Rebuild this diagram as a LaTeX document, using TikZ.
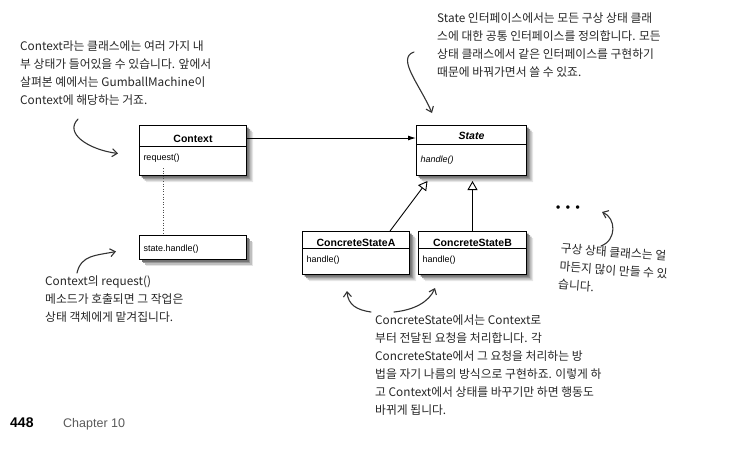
\documentclass[tikz,border=0pt]{standalone}
\usepackage{fontspec}
\setsansfont{Liberation Sans}
\newfontfamily\handfont{Noto Sans CJK KR}
\usepackage{tikz}
\usetikzlibrary{arrows.meta, positioning, shapes.multipart, shadows}

\newcommand{\umlname}[3]{{\centering\fontsize{10.5}{12}\selectfont\bfseries #1\rule[-#3pt]{0pt}{\dimexpr #2pt+#3pt\relax}\par}}
\newcommand{\umlops}[3]{#1\rule[-#3pt]{0pt}{\dimexpr #2pt+#3pt\relax}}

\tikzset{
    softshadow/.style={
        drop shadow={shadow xshift=6.5pt, shadow yshift=-6.5pt, opacity=1, fill=black!10},
        drop shadow={shadow xshift=5pt, shadow yshift=-5pt, opacity=1, fill=black!25},
        drop shadow={shadow xshift=3.5pt, shadow yshift=-3.5pt, opacity=1, fill=black!40},
        drop shadow={shadow xshift=2pt, shadow yshift=-2pt, opacity=1, fill=black!55}},
    umlbase/.style={draw, line width=1pt, fill=white, inner xsep=4pt, inner ysep=0pt, align=left,
        font=\sffamily\fontsize{9}{11}\selectfont, softshadow},
    umlbox/.style={umlbase, rectangle, text width=#1},
    umlbox/.default=99pt,
    umlclass/.style={umlbase, rectangle split, rectangle split parts=2, text width=#1},
    umlclass/.default=99pt,
    handnote/.style={anchor=north west, align=left, inner sep=0pt, text=black!85,
        font=\handfont\fontsize{11.8}{18}\selectfont},
    handarrow/.style={-{Straight Barb[length=5pt, width=8pt]}, line width=1.1pt, black!80, line cap=round},
}

\begin{document}
\begin{tikzpicture}[x=1pt, y=-1pt]
    \useasboundingbox (0,0) rectangle (731,451);

    \node[umlclass, anchor=north west] (ctx) at (139,125)
        {\umlname{Context}{16}{4}\nodepart{second}\umlops{request()}{13}{15}};
    \node[umlclass=102pt, right=169pt of ctx] (state)
        {\umlname{\itshape State}{13.5}{4.5}\nodepart{second}\umlops{\itshape handle()}{17}{13}};
    \node[umlbox, below=59pt of ctx] (handle) {\umlops{state.handle()}{16}{8}};
    \node[umlclass, anchor=north west] (csa) at (302,231)
        {\umlname{ConcreteStateA}{14}{2}\nodepart{second}\umlops{handle()}{13}{12}};
    \node[umlclass=100pt, right=8pt of csa] (csb)
        {\umlname{ConcreteStateB}{14}{2}\nodepart{second}\umlops{handle()}{13}{12}};
    \node[inner sep=0pt, font=\sffamily\bfseries\fontsize{12}{12}\selectfont] (more) at (568,209)
        {\textbullet\hspace{5.5pt}\textbullet\hspace{5.5pt}\textbullet};

    \node[handnote] (ctxnote) at (20,41) {
        Context라는 클래스에는 여러 가지 내\\
        부 상태가 들어있을 수 있습니다. 앞에서\\
        살펴본 예에서는 GumballMachine이\\
        Context에 해당하는 거죠.
    };
    \node[handnote] (statenote) at (437,13) {
        State 인터페이스에서는 모든 구상 상태 클래\\
        스에 대한 공통 인터페이스를 정의합니다. 모든\\
        상태 클래스에서 같은 인터페이스를 구현하기\\
        때문에 바꿔가면서 쓸 수 있죠.
    };
    \node[handnote] (reqnote) at (45,276) {
        Context의 request()\\
        메소드가 호출되면 그 작업은\\
        상태 객체에게 맡겨집니다.
    };
    \node[handnote, rotate=-4] (manynote) at (561,243) {
        구상 상태 클래스는 얼\\
        마든지 많이 만들 수 있\\
        습니다.
    };
    \node[handnote] (concnote) at (375,315) {
        ConcreteState에서는 Context로\\
        부터 전달된 요청을 처리합니다. 각\\
        ConcreteState에서 그 요청을 처리하는 방\\
        법을 자기 나름의 방식으로 구현하죠. 이렇게 하\\
        고 Context에서 상태를 바꾸기만 하면 행동도\\
        바뀌게 됩니다.
    };

    \node[anchor=base west, inner sep=0pt, font=\sffamily\bfseries\fontsize{14}{16}\selectfont] (pagenum) at (10,427) {448};
    \node[anchor=base west, inner sep=0pt, text=black!65, font=\sffamily\fontsize{12.5}{14}\selectfont] (chapter) at (63,427) {Chapter 10};

    \coordinate (stbase) at ([yshift=-5pt]state.south);
    \coordinate (statetail) at ([shift={(-23,39)}]statenote.north west);
    \draw[-{Latex[length=8pt, width=5pt]}, line width=1pt] ([yshift=-13pt]ctx.north east) -- ([yshift=-13pt]state.north west);
    \draw[-{Triangle[open, length=9pt, width=10pt]}, line width=0.9pt] ([xshift=34pt]csa.north) -- ([xshift=-44pt]stbase);
    \draw[-{Triangle[open, length=9pt, width=10pt]}, line width=0.9pt] (csb.north) -- (csb.north |- stbase);
    \draw[dotted, line width=0.6pt, black!70] ([shift={(24,-8)}]ctx.south west) -- ([xshift=24pt]handle.north west);

    \draw[handarrow] ([shift={(58,13)}]ctxnote.south west) .. controls +(-14,14) and +(-30,-4) .. ([shift={(-21,3)}]ctx.west);
    \draw[handarrow] (statetail) .. controls +(-18,6) and +(-12,-28) .. ([shift={(16,-12)}]state.north west);
    \draw[handarrow] ([shift={(32,-3)}]reqnote.north west) .. controls +(4,-18) and +(-20,4) .. ([shift={(-23,4)}]handle.west);
    \draw[handarrow] ([shift={(-4,-3)}]concnote.north west) .. controls +(-14,-2) and +(1,14) .. ([shift={(-9,16)}]csa.south);
    \draw[handarrow] ([shift={(19,-3)}]concnote.north west) .. controls +(20,-2) and +(-6,14) .. ([shift={(17,13)}]csb.south west);
    \draw[handarrow] ([shift={(40,3)}]manynote.north west) .. controls +(16,-6) and +(14,6) .. ([shift={(22,3)}]more.east);
\end{tikzpicture}
\end{document}
